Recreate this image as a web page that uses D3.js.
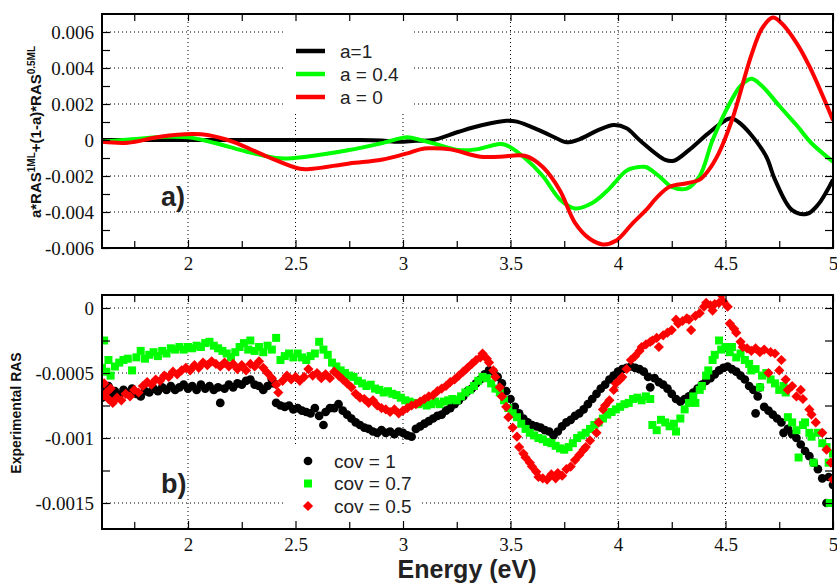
<!DOCTYPE html>
<html>
<head>
<meta charset="utf-8">
<script src="https://cdn.jsdelivr.net/npm/d3@7/dist/d3.min.js"></script>
<style>
body { margin: 0; background: #fff; }
.tick text { font-family: "Liberation Serif", "DejaVu Serif", "Times New Roman", serif; }
</style>
</head>
<body>
<div id="chart"></div>
<script>
// ---- data ----
var energyTicks = [2, 2.5, 3, 3.5, 4, 4.5, 5];
var energyMinor = [1.75, 2.25, 2.75, 3.25, 3.75, 4.25, 4.75];
var calcTicks = [-0.006, -0.004, -0.002, 0, 0.002, 0.004, 0.006];
var calcMinor = [-0.005, -0.003, -0.001, 0.001, 0.003, 0.005];
var expTicks = [-0.0015, -0.001, -0.0005, 0];
var expMinor = [-0.00125, -0.00075, -0.00025];

var calcNames = ["a=1", "a = 0.4", "a = 0"];
var expNames = ["cov = 1", "cov = 0.7", "cov = 0.5"];
var colors = ["#000000", "#00ff00", "#ff0000"];

// panel a) : a*RAS(1ML) + (1-a)*RAS(0.5ML)
var calcA1 = [[1.6,0],[1.8,0],[2.0,0],[2.2,0],[2.4,0],[2.6,0],[2.8,0],[2.9,-0.00003],[2.98,-0.0001],[3.06,-0.00004],[3.14,0],
  [3.26,0.00046],[3.37,0.00083],[3.48,0.00107],[3.53,0.00102],[3.63,0.00056],[3.73,0],[3.76,-0.00013],[3.82,0.00004],
  [3.91,0.00056],[3.98,0.00083],[4.04,0.00065],[4.1,0],[4.22,-0.0011],[4.26,-0.00115],[4.33,-0.00056],[4.42,0.00037],
  [4.52,0.0012],[4.56,0.001],[4.62,0.00028],[4.69,-0.00093],[4.73,-0.0022],[4.81,-0.0039],[4.88,-0.0041],[4.93,-0.0036],[5.0,-0.0022]];
var calcA04 = [[1.6,-0.0001],[1.74,0.00004],[1.9,0.00018],[2.0,0.00015],[2.13,-0.00018],[2.29,-0.0007],[2.43,-0.00102],
  [2.55,-0.00093],[2.75,-0.00056],[2.9,-0.00018],[3.02,0.00015],[3.08,0],[3.14,-0.00018],[3.26,-0.00056],[3.34,-0.00052],
  [3.45,-0.00022],[3.48,-0.00028],[3.56,-0.00093],[3.65,-0.002],[3.73,-0.0033],[3.8,-0.0038],[3.88,-0.0035],[3.96,-0.0027],
  [4.04,-0.0017],[4.1,-0.0015],[4.13,-0.0015],[4.19,-0.002],[4.25,-0.0026],[4.32,-0.0027],[4.38,-0.002],[4.44,0],
  [4.52,0.00204],[4.57,0.003],[4.62,0.0034],[4.67,0.003],[4.75,0.0019],[4.83,0.00083],[4.9,-0.00018],[5.0,-0.0012]];
var calcA0 = [[1.6,-0.0001],[1.72,-0.00015],[1.87,0.00018],[2.02,0.00033],[2.09,0.00028],[2.21,-0.0001],[2.37,-0.00093],
  [2.52,-0.0016],[2.58,-0.0016],[2.75,-0.0013],[2.9,-0.0011],[3.02,-0.00074],[3.08,-0.00052],[3.12,-0.00046],[3.22,-0.00052],
  [3.36,-0.00093],[3.45,-0.00093],[3.57,-0.00089],[3.65,-0.0015],[3.73,-0.0028],[3.8,-0.0046],[3.87,-0.0055],[3.93,-0.0058],
  [3.99,-0.0056],[4.07,-0.0046],[4.13,-0.0039],[4.18,-0.0032],[4.24,-0.0026],[4.32,-0.0024],[4.38,-0.0022],[4.42,-0.0017],
  [4.47,-0.0007],[4.53,0.0011],[4.62,0.0047],[4.67,0.0062],[4.72,0.0068],[4.76,0.0065],[4.83,0.0054],[4.89,0.0041],[5.0,0.0011]];

// panel b) : experimental RAS
var expCov1 = [[1.60,-0.00069],[1.61,-0.00062],[1.62,-0.00066],[1.63,-0.00060],[1.64,-0.00068],[1.66,-0.00064],[1.68,-0.00067],[1.70,-0.00063],[1.72,-0.00065],[1.74,-0.00062],[1.76,-0.00066],[1.78,-0.00068],[1.80,-0.00064],[1.82,-0.00065],[1.84,-0.00062],[1.86,-0.00064],[1.88,-0.00061],[1.90,-0.00063],[1.92,-0.00060],[1.94,-0.00063],[1.96,-0.00061],[1.98,-0.00059],[2.00,-0.00062],[2.02,-0.00060],[2.04,-0.00063],[2.06,-0.00059],[2.08,-0.00062],[2.10,-0.00060],[2.12,-0.00063],[2.14,-0.00061],[2.15,-0.00073],[2.17,-0.00062],[2.19,-0.00059],[2.21,-0.00061],[2.23,-0.00058],[2.25,-0.00059],[2.27,-0.00056],[2.29,-0.00055],[2.31,-0.00059],[2.33,-0.00060],[2.35,-0.00063],[2.37,-0.00060],[2.39,-0.00055],[2.40,-0.00058],[2.41,-0.00073],[2.43,-0.00075],[2.45,-0.00076],[2.47,-0.00075],[2.49,-0.00078],[2.51,-0.00077],[2.53,-0.00079],[2.55,-0.00080],[2.57,-0.00081],[2.59,-0.00077],[2.61,-0.00083],[2.63,-0.00090],[2.64,-0.00080],[2.66,-0.00077],[2.68,-0.00077],[2.70,-0.00074],[2.72,-0.00079],[2.74,-0.00082],[2.76,-0.00085],[2.78,-0.00088],[2.80,-0.00090],[2.82,-0.00092],[2.84,-0.00093],[2.86,-0.00095],[2.88,-0.00096],[2.90,-0.00094],[2.92,-0.00096],[2.94,-0.00095],[2.96,-0.00097],[2.98,-0.00095],[3.00,-0.00096],[3.02,-0.00098],[3.04,-0.00099],[3.06,-0.00093],[3.08,-0.00091],[3.10,-0.00089],[3.12,-0.00087],[3.14,-0.00085],[3.16,-0.00083],[3.18,-0.00082],[3.20,-0.00079],[3.22,-0.00077],[3.24,-0.00074],[3.26,-0.00071],[3.28,-0.00068],[3.30,-0.00064],[3.32,-0.00062],[3.34,-0.00058],[3.36,-0.00055],[3.38,-0.00051],[3.40,-0.00048],[3.42,-0.00049],[3.44,-0.00053],[3.46,-0.00058],[3.48,-0.00064],[3.50,-0.00070],[3.52,-0.00076],[3.54,-0.00081],[3.56,-0.00085],[3.58,-0.00088],[3.60,-0.00090],[3.62,-0.00091],[3.64,-0.00092],[3.66,-0.00094],[3.68,-0.00095],[3.70,-0.00098],[3.72,-0.00095],[3.74,-0.00091],[3.76,-0.00088],[3.78,-0.00086],[3.80,-0.00083],[3.82,-0.00081],[3.84,-0.00078],[3.86,-0.00074],[3.88,-0.00070],[3.90,-0.00066],[3.92,-0.00062],[3.94,-0.00059],[3.96,-0.00055],[3.98,-0.00052],[4.00,-0.00049],[4.02,-0.00047],[4.04,-0.00046],[4.06,-0.00045],[4.08,-0.00046],[4.10,-0.00047],[4.12,-0.00049],[4.14,-0.00053],[4.15,-0.00061],[4.17,-0.00054],[4.19,-0.00057],[4.21,-0.00059],[4.23,-0.00062],[4.25,-0.00066],[4.27,-0.00070],[4.29,-0.00072],[4.31,-0.00070],[4.33,-0.00068],[4.35,-0.00065],[4.37,-0.00062],[4.39,-0.00059],[4.41,-0.00056],[4.43,-0.00054],[4.45,-0.00051],[4.47,-0.00048],[4.49,-0.00046],[4.51,-0.00045],[4.53,-0.00047],[4.55,-0.00049],[4.57,-0.00052],[4.59,-0.00055],[4.61,-0.00060],[4.63,-0.00063],[4.64,-0.00081],[4.65,-0.00068],[4.66,-0.00061],[4.68,-0.00076],[4.70,-0.00079],[4.72,-0.00082],[4.74,-0.00085],[4.76,-0.00088],[4.77,-0.00096],[4.79,-0.00093],[4.81,-0.00097],[4.83,-0.00100],[4.85,-0.00105],[4.87,-0.00110],[4.89,-0.00114],[4.91,-0.00119],[4.93,-0.00124],[4.95,-0.00131],[4.97,-0.00150],[4.98,-0.00130],[5.00,-0.00136]];
var expCov07 = [[1.60,-0.00046],[1.61,-0.00025],[1.62,-0.00049],[1.63,-0.00040],[1.64,-0.00052],[1.66,-0.00045],[1.68,-0.00042],[1.70,-0.00040],[1.72,-0.00039],[1.74,-0.00048],[1.76,-0.00038],[1.78,-0.00033],[1.80,-0.00039],[1.82,-0.00036],[1.84,-0.00034],[1.86,-0.00037],[1.88,-0.00033],[1.90,-0.00035],[1.92,-0.00031],[1.94,-0.00032],[1.96,-0.00030],[1.98,-0.00032],[2.00,-0.00030],[2.02,-0.00031],[2.04,-0.00029],[2.06,-0.00030],[2.08,-0.00027],[2.10,-0.00026],[2.12,-0.00029],[2.14,-0.00031],[2.16,-0.00033],[2.18,-0.00035],[2.20,-0.00038],[2.22,-0.00034],[2.24,-0.00030],[2.26,-0.00027],[2.28,-0.00032],[2.29,-0.00025],[2.31,-0.00033],[2.33,-0.00030],[2.35,-0.00034],[2.37,-0.00029],[2.39,-0.00032],[2.41,-0.00023],[2.43,-0.00040],[2.45,-0.00037],[2.47,-0.00035],[2.49,-0.00038],[2.51,-0.00035],[2.53,-0.00038],[2.55,-0.00040],[2.57,-0.00037],[2.59,-0.00035],[2.61,-0.00026],[2.63,-0.00032],[2.65,-0.00036],[2.67,-0.00042],[2.69,-0.00045],[2.71,-0.00048],[2.73,-0.00050],[2.75,-0.00052],[2.77,-0.00053],[2.79,-0.00056],[2.81,-0.00058],[2.83,-0.00060],[2.85,-0.00059],[2.87,-0.00062],[2.89,-0.00063],[2.91,-0.00065],[2.93,-0.00064],[2.95,-0.00066],[2.97,-0.00067],[2.99,-0.00069],[3.01,-0.00071],[3.03,-0.00072],[3.05,-0.00073],[3.07,-0.00074],[3.09,-0.00073],[3.11,-0.00075],[3.13,-0.00074],[3.15,-0.00072],[3.17,-0.00074],[3.19,-0.00072],[3.21,-0.00071],[3.23,-0.00070],[3.25,-0.00071],[3.27,-0.00068],[3.29,-0.00065],[3.31,-0.00063],[3.33,-0.00060],[3.35,-0.00056],[3.37,-0.00053],[3.39,-0.00054],[3.41,-0.00058],[3.43,-0.00062],[3.45,-0.00065],[3.47,-0.00071],[3.49,-0.00077],[3.51,-0.00081],[3.53,-0.00084],[3.55,-0.00089],[3.57,-0.00093],[3.59,-0.00096],[3.61,-0.00098],[3.63,-0.00100],[3.65,-0.00101],[3.67,-0.00103],[3.69,-0.00104],[3.71,-0.00106],[3.73,-0.00108],[3.75,-0.00109],[3.77,-0.00107],[3.79,-0.00104],[3.81,-0.00100],[3.83,-0.00098],[3.85,-0.00096],[3.87,-0.00093],[3.89,-0.00090],[3.91,-0.00088],[3.93,-0.00085],[3.95,-0.00082],[3.97,-0.00080],[3.99,-0.00078],[4.01,-0.00076],[4.03,-0.00074],[4.05,-0.00073],[4.07,-0.00070],[4.09,-0.00069],[4.11,-0.00071],[4.13,-0.00068],[4.15,-0.00070],[4.16,-0.00090],[4.18,-0.00094],[4.20,-0.00086],[4.22,-0.00088],[4.24,-0.00091],[4.26,-0.00089],[4.27,-0.00095],[4.29,-0.00085],[4.31,-0.00078],[4.33,-0.00073],[4.35,-0.00068],[4.36,-0.00073],[4.38,-0.00063],[4.39,-0.00060],[4.41,-0.00052],[4.42,-0.00048],[4.44,-0.00040],[4.45,-0.00036],[4.47,-0.00025],[4.48,-0.00032],[4.50,-0.00030],[4.52,-0.00034],[4.53,-0.00030],[4.55,-0.00038],[4.57,-0.00035],[4.59,-0.00040],[4.61,-0.00043],[4.62,-0.00048],[4.64,-0.00047],[4.66,-0.00061],[4.67,-0.00052],[4.69,-0.00050],[4.71,-0.00055],[4.73,-0.00058],[4.75,-0.00063],[4.77,-0.00060],[4.78,-0.00065],[4.79,-0.00084],[4.81,-0.00088],[4.83,-0.00094],[4.84,-0.00115],[4.86,-0.00090],[4.87,-0.00088],[4.89,-0.00096],[4.90,-0.00099],[4.91,-0.00119],[4.93,-0.00096],[4.95,-0.00104],[4.97,-0.00107],[4.98,-0.00119],[4.985,-0.00150],[5.00,-0.00112]];
var expCov05 = [[1.60,-0.00068],[1.61,-0.00058],[1.62,-0.00065],[1.63,-0.00070],[1.64,-0.00062],[1.65,-0.00073],[1.67,-0.00069],[1.69,-0.00071],[1.71,-0.00066],[1.73,-0.00068],[1.75,-0.00063],[1.77,-0.00065],[1.79,-0.00060],[1.81,-0.00057],[1.83,-0.00059],[1.85,-0.00055],[1.87,-0.00056],[1.89,-0.00052],[1.91,-0.00053],[1.93,-0.00049],[1.95,-0.00051],[1.97,-0.00048],[1.99,-0.00046],[2.01,-0.00048],[2.03,-0.00044],[2.05,-0.00046],[2.07,-0.00042],[2.09,-0.00044],[2.11,-0.00041],[2.13,-0.00043],[2.15,-0.00045],[2.17,-0.00042],[2.19,-0.00045],[2.21,-0.00043],[2.23,-0.00047],[2.25,-0.00044],[2.27,-0.00048],[2.29,-0.00043],[2.31,-0.00045],[2.33,-0.00041],[2.35,-0.00046],[2.37,-0.00050],[2.39,-0.00054],[2.41,-0.00059],[2.42,-0.00065],[2.44,-0.00056],[2.46,-0.00052],[2.48,-0.00055],[2.50,-0.00053],[2.52,-0.00056],[2.54,-0.00053],[2.56,-0.00047],[2.58,-0.00052],[2.60,-0.00050],[2.62,-0.00054],[2.64,-0.00051],[2.66,-0.00054],[2.68,-0.00049],[2.70,-0.00052],[2.72,-0.00055],[2.74,-0.00058],[2.76,-0.00061],[2.78,-0.00066],[2.80,-0.00069],[2.82,-0.00070],[2.84,-0.00073],[2.86,-0.00071],[2.88,-0.00075],[2.90,-0.00077],[2.92,-0.00078],[2.94,-0.00080],[2.96,-0.00078],[2.98,-0.00081],[3.00,-0.00079],[3.02,-0.00077],[3.04,-0.00075],[3.06,-0.00074],[3.08,-0.00072],[3.10,-0.00070],[3.12,-0.00068],[3.14,-0.00067],[3.16,-0.00064],[3.18,-0.00062],[3.20,-0.00060],[3.22,-0.00057],[3.24,-0.00055],[3.26,-0.00052],[3.28,-0.00049],[3.30,-0.00046],[3.32,-0.00043],[3.34,-0.00040],[3.36,-0.00038],[3.37,-0.00035],[3.39,-0.00039],[3.40,-0.00042],[3.42,-0.00048],[3.43,-0.00053],[3.45,-0.00061],[3.46,-0.00068],[3.48,-0.00076],[3.49,-0.00084],[3.51,-0.00092],[3.53,-0.00099],[3.54,-0.00107],[3.56,-0.00112],[3.57,-0.00115],[3.59,-0.00119],[3.60,-0.00122],[3.62,-0.00126],[3.63,-0.00130],[3.65,-0.00131],[3.67,-0.00132],[3.69,-0.00128],[3.71,-0.00131],[3.72,-0.00127],[3.74,-0.00129],[3.76,-0.00124],[3.78,-0.00122],[3.80,-0.00117],[3.82,-0.00113],[3.84,-0.00109],[3.85,-0.00107],[3.87,-0.00102],[3.90,-0.00096],[3.91,-0.00088],[3.93,-0.00078],[3.94,-0.00075],[3.96,-0.00071],[3.98,-0.00063],[3.99,-0.00058],[4.01,-0.00055],[4.02,-0.00053],[4.04,-0.00047],[4.06,-0.00040],[4.08,-0.00037],[4.10,-0.00033],[4.11,-0.00030],[4.13,-0.00028],[4.15,-0.00026],[4.16,-0.00025],[4.18,-0.00023],[4.19,-0.00030],[4.21,-0.00021],[4.23,-0.00019],[4.25,-0.00017],[4.27,-0.00009],[4.28,-0.00012],[4.30,-0.00010],[4.32,-0.00008],[4.33,-0.00009],[4.34,-0.00017],[4.36,-0.00006],[4.38,-0.00004],[4.40,0.00001],[4.41,0.00004],[4.43,0.00002],[4.44,-0.00002],[4.45,0.00003],[4.47,0.00004],[4.48,0.00010],[4.49,0.00005],[4.51,0.00001],[4.52,-0.00012],[4.54,-0.00016],[4.55,-0.00019],[4.57,-0.00026],[4.58,-0.00030],[4.60,-0.00031],[4.62,-0.00033],[4.64,-0.00031],[4.66,-0.00034],[4.68,-0.00032],[4.70,-0.00050],[4.71,-0.00034],[4.73,-0.00035],[4.75,-0.00048],[4.76,-0.00040],[4.78,-0.00055],[4.79,-0.00063],[4.81,-0.00060],[4.83,-0.00068],[4.85,-0.00063],[4.86,-0.00070],[4.89,-0.00078],[4.90,-0.00082],[4.92,-0.00088],[4.95,-0.00096],[4.97,-0.00109],[4.99,-0.00119],[5.00,-0.00132]];

// ---- layout ----
var width = 837, height = 583;
var left = 102, right = 833;
var SERIF = "Liberation Serif, DejaVu Serif, serif";
var SANS = "Liberation Sans, Arial, Helvetica, sans-serif";

var svg = d3.select("#chart").append("svg")
	.attr("width", width)
	.attr("height", height)
	.style("background", "#fff");

var x = d3.scaleLinear().domain([1.6, 5]).range([left, right]);
var yA = d3.scaleLinear().domain([-0.006, 0.007]).range([248, 14]);
var yB = d3.scaleLinear().domain([-0.0017, 0.0001]).range([529, 295]);

//draws dotted grid, legend background and clip area of one panel
function drawPanel(y, majors, id, box) {
	var top = y.range()[1], bottom = y.range()[0];
	var g = svg.append("g");

	g.selectAll(".vgrid").data(energyTicks.filter(function(d){ return d < 5; }))
		.enter().append("line")
		.attr("x1", x).attr("x2", x)
		.attr("y1", top).attr("y2", bottom);
	g.selectAll(".hgrid").data(majors)
		.enter().append("line")
		.attr("x1", left).attr("x2", right)
		.attr("y1", y).attr("y2", y);
	g.selectAll("line")
		.attr("stroke", "#000")
		.attr("stroke-width", 1)
		.attr("stroke-dasharray", "1,3");

	// legend background hides the grid
	svg.append("rect")
		.attr("x", box[0]).attr("y", box[1])
		.attr("width", box[2]).attr("height", box[3])
		.attr("fill", "#fff");

	svg.append("clipPath").attr("id", id)
		.append("rect")
		.attr("x", left).attr("y", top)
		.attr("width", right - left).attr("height", bottom - top);
}

//ticks on all four sides, labels left and bottom, then the frame
function drawAxes(y, majors, minors) {
	var top = y.range()[1], bottom = y.range()[0];
	var tickStyle = function(g) {
		g.attr("font-family", SERIF).attr("font-size", 19);
		g.select(".domain").remove();
		g.selectAll("line").attr("stroke", "#000").attr("stroke-width", 1.2);
		g.selectAll("text").attr("fill", "#111");
	};
	svg.append("g").attr("transform", "translate(" + left + ",0)")
		.call(d3.axisLeft(y).tickValues(majors).tickSize(-8).tickPadding(8).tickFormat(String))
		.call(tickStyle);
	svg.append("g").attr("transform", "translate(" + left + ",0)")
		.call(d3.axisLeft(y).tickValues(minors).tickSize(-8).tickFormat(""))
		.call(tickStyle);
	svg.append("g").attr("transform", "translate(" + right + ",0)")
		.call(d3.axisRight(y).tickValues(majors.concat(minors)).tickSize(-8).tickFormat(""))
		.call(tickStyle);
	svg.append("g").attr("transform", "translate(0," + bottom + ")")
		.call(d3.axisBottom(x).tickValues(energyTicks).tickSize(-8).tickPadding(9).tickFormat(String))
		.call(tickStyle);
	svg.append("g").attr("transform", "translate(0," + bottom + ")")
		.call(d3.axisBottom(x).tickValues(energyMinor).tickSize(-7).tickFormat(""))
		.call(tickStyle);
	svg.append("g").attr("transform", "translate(0," + top + ")")
		.call(d3.axisTop(x).tickValues(energyTicks.concat(energyMinor)).tickSize(-7).tickFormat(""))
		.call(tickStyle);

	svg.append("rect")
		.attr("x", left).attr("y", top)
		.attr("width", right - left).attr("height", bottom - top)
		.attr("fill", "none")
		.attr("stroke", "#000")
		.attr("stroke-width", 2);
}

// ---- panel a) ----
drawPanel(yA, calcTicks, "clipA", [285, 15, 127, 97]);

var line = d3.line()
	.x(function(d){ return x(d[0]); })
	.y(function(d){ return yA(d[1]); })
	.curve(d3.curveCatmullRom.alpha(0.5));

svg.append("g").attr("clip-path", "url(#clipA)")
	.selectAll("path")
	.data([calcA1, calcA04, calcA0])
	.enter().append("path")
	.attr("d", line)
	.attr("fill", "none")
	.attr("stroke", function(d, i){ return colors[i]; })
	.attr("stroke-width", 4)
	.attr("stroke-linejoin", "round");

drawAxes(yA, calcTicks, calcMinor);

var legA = svg.append("g").selectAll("g")
	.data(calcNames)
	.enter().append("g")
	.attr("transform", function(d, i){ return "translate(296," + (51 + i * 23) + ")"; });
legA.append("line")
	.attr("x1", 0).attr("x2", 29)
	.attr("stroke", function(d, i){ return colors[i]; })
	.attr("stroke-width", 4.5);
legA.append("text")
	.attr("x", 44).attr("dy", "0.36em")
	.attr("font-family", SANS).attr("font-size", 19)
	.attr("fill", "#222")
	.text(function(d){ return d; });

svg.append("text")
	.attr("x", 161).attr("y", 206)
	.attr("font-family", SANS).attr("font-size", 27).attr("font-weight", "bold")
	.attr("fill", "#222")
	.text("a)");

var yLabA = svg.append("text")
	.attr("transform", "translate(41,132) rotate(-90)")
	.attr("text-anchor", "middle")
	.attr("font-family", SANS).attr("font-size", 15).attr("font-weight", "bold")
	.attr("fill", "#111");
yLabA.append("tspan").text("a*RAS");
yLabA.append("tspan").attr("dy", -6).attr("font-size", 10).text("1ML");
yLabA.append("tspan").attr("dy", 6).text("+(1-a)*RAS");
yLabA.append("tspan").attr("dy", -6).attr("font-size", 10).text("0.5ML");

// ---- panel b) ----
drawPanel(yB, expTicks, "clipB", [283, 447, 137, 81]);

var symbols = [
	d3.symbol().type(d3.symbolCircle).size(60),
	d3.symbol().type(d3.symbolSquare).size(64),
	d3.symbol().type(d3.symbolSquare).size(52)
];
var rotations = [0, 0, 45];

var dots = svg.append("g").attr("clip-path", "url(#clipB)");
[expCov1, expCov07, expCov05].forEach(function(series, k) {
	dots.append("g").selectAll("path")
		.data(series)
		.enter().append("path")
		.attr("d", symbols[k])
		.attr("transform", function(d){
			return "translate(" + x(d[0]) + "," + yB(d[1]) + ") rotate(" + rotations[k] + ")";
		})
		.attr("fill", colors[k]);
});

drawAxes(yB, expTicks, expMinor);

var legB = svg.append("g").selectAll("g")
	.data(expNames)
	.enter().append("g")
	.attr("transform", function(d, i){ return "translate(308," + (461 + i * 22.5) + ")"; });
legB.append("path")
	.attr("d", function(d, i){ return symbols[i](); })
	.attr("transform", function(d, i){ return "rotate(" + rotations[i] + ")"; })
	.attr("fill", function(d, i){ return colors[i]; });
legB.append("text")
	.attr("x", 26).attr("dy", "0.36em")
	.attr("font-family", SANS).attr("font-size", 19)
	.attr("fill", "#222")
	.text(function(d){ return d; });

svg.append("text")
	.attr("x", 161).attr("y", 493)
	.attr("font-family", SANS).attr("font-size", 27).attr("font-weight", "bold")
	.attr("fill", "#222")
	.text("b)");

svg.append("text")
	.attr("transform", "translate(21,413) rotate(-90)")
	.attr("text-anchor", "middle")
	.attr("font-family", SANS).attr("font-size", 14).attr("font-weight", "bold")
	.attr("fill", "#111")
	.text("Experimental RAS");

svg.append("text")
	.attr("x", 467).attr("y", 578)
	.attr("text-anchor", "middle")
	.attr("font-family", SANS).attr("font-size", 25).attr("font-weight", "bold")
	.attr("fill", "#222")
	.text("Energy (eV)");
</script>
</body>
</html>
